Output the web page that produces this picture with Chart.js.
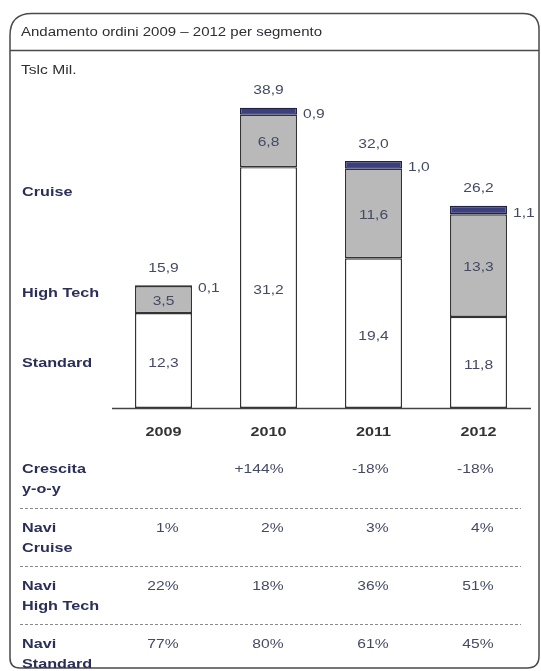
<!DOCTYPE html>
<html><head><meta charset="utf-8">
<script src="https://cdn.jsdelivr.net/npm/chart.js@4/dist/chart.umd.min.js"></script>
<style>html,body{margin:0;padding:0;background:#fff;}#wrap{width:541px;height:671px;position:relative;}</style>
</head><body><div id="wrap"><canvas id="c" width="541" height="671"></canvas></div>
<script>
const years = ['2009', '2010', '2011', '2012'];
const standard = [12.3, 31.2, 19.4, 11.8];
const highTech = [3.5, 6.8, 11.6, 13.3];
const cruise = [0.1, 0.9, 1.0, 1.1];
const totals = [15.9, 38.9, 32.0, 26.2];
const growth = ['', '+144%', '-18%', '-18%'];
const shareCruise = ['1%', '2%', '3%', '4%'];
const shareHighTech = ['22%', '18%', '36%', '51%'];
const shareStandard = ['77%', '80%', '61%', '45%'];
const segmentLabels = ['Cruise', 'High Tech', 'Standard'];
const tableRows = [
  { label: ['Crescita', 'y-o-y'], values: growth },
  { label: ['Navi', 'Cruise'], values: shareCruise },
  { label: ['Navi', 'High Tech'], values: shareHighTech },
  { label: ['Navi', 'Standard'], values: shareStandard }
];
const titleText = 'Andamento ordini 2009 – 2012 per segmento';
const unitText = 'Tslc Mil.';

const fmt = v => v.toFixed(1).replace('.', ',');
const FONT = '"Liberation Sans", Arial, sans-serif';
const VAL = '#454a62';
const LAB = '#2b2f57';
const SX = 1.2;

function txt(ctx, s, x, y, align, font, color) {
  ctx.save();
  ctx.font = font;
  ctx.fillStyle = color;
  ctx.textBaseline = 'middle';
  ctx.textAlign = align;
  ctx.translate(x, y);
  ctx.scale(SX, 1);
  ctx.fillText(s, 0, 0);
  ctx.restore();
}

const overlay = {
  id: 'overlay',
  afterDatasetsDraw(chart) {
    const ctx = chart.ctx;
    const xs = chart.scales.x, ys = chart.scales.y;
    const ca = chart.chartArea;
    ctx.save();
    // frame
    ctx.strokeStyle = '#4a4a4a';
    ctx.lineWidth = 1.5;
    const L = 10, T = 13.5, R = 539, B = 668;
    ctx.beginPath();
    ctx.moveTo(L + 22, T);
    ctx.lineTo(R - 16, T);
    ctx.quadraticCurveTo(R, T, R, T + 16);
    ctx.lineTo(R, B - 12);
    ctx.quadraticCurveTo(R, B, R - 12, B);
    ctx.lineTo(L + 10, B);
    ctx.quadraticCurveTo(L, B, L, B - 10);
    ctx.lineTo(L, T + 22);
    ctx.quadraticCurveTo(L, T, L + 22, T);
    ctx.stroke();
    // title separator
    ctx.beginPath();
    ctx.moveTo(L, 50.5); ctx.lineTo(R, 50.5);
    ctx.lineWidth = 1.3; ctx.stroke();
    // title and unit
    txt(ctx, titleText, 21, 33, 'left', '12.5px ' + FONT, '#2e2e35');
    txt(ctx, unitText, 21, 70, 'left', '13px ' + FONT, '#2e2e35');
    // baseline
    ctx.strokeStyle = '#444';
    ctx.lineWidth = 1.3;
    ctx.beginPath();
    ctx.moveTo(ca.left + 1, ys.getPixelForValue(0) + 0.5);
    ctx.lineTo(ca.right, ys.getPixelForValue(0) + 0.5);
    ctx.stroke();
    // segment labels on left
    const labFont = 'bold 13.5px ' + FONT;
    txt(ctx, segmentLabels[0], 22, 192, 'left', labFont, LAB);
    txt(ctx, segmentLabels[1], 22, 293, 'left', labFont, LAB);
    txt(ctx, segmentLabels[2], 22, 363, 'left', labFont, LAB);
    // bar value labels
    const vFont = '13px ' + FONT;
    const metaS = chart.getDatasetMeta(0).data;
    const metaH = chart.getDatasetMeta(1).data;
    const metaC = chart.getDatasetMeta(2).data;
    years.forEach((y, i) => {
      const cx = xs.getPixelForValue(i);
      const s = metaS[i], h = metaH[i], c = metaC[i];
      txt(ctx, fmt(standard[i]), cx, (s.y + s.base) / 2 + 3, 'center', vFont, VAL);
      txt(ctx, fmt(highTech[i]), cx, (h.y + h.base) / 2 + 2, 'center', vFont, VAL);
      txt(ctx, fmt(totals[i]), cx, ys.getPixelForValue(totals[i]) - 17, 'center', vFont, VAL);
      txt(ctx, fmt(cruise[i]), c.x + c.width / 2 + 6, (c.y + c.base) / 2 + 3, 'left', vFont, VAL);
      txt(ctx, y, cx, 432, 'center', 'bold 13.5px ' + FONT, '#333');
    });
    // table
    const rowY = [469, 528, 586, 644];
    const dashY = [508, 566, 624];
    tableRows.forEach((row, r) => {
      txt(ctx, row.label[0], 22, rowY[r], 'left', labFont, LAB);
      txt(ctx, row.label[1], 22, rowY[r] + 20, 'left', labFont, LAB);
      row.values.forEach((v, i) => {
        txt(ctx, v, xs.getPixelForValue(i) + 15, rowY[r], 'right', vFont, VAL);
      });
    });
    ctx.strokeStyle = '#8a8a8a';
    ctx.lineWidth = 1;
    ctx.setLineDash([3, 2]);
    dashY.forEach(y => {
      ctx.beginPath();
      ctx.moveTo(20, y + 0.5); ctx.lineTo(521, y + 0.5); ctx.stroke();
    });
    ctx.restore();
  }
};

const bw = 0.543;
new Chart(document.getElementById('c'), {
  type: 'bar',
  data: {
    labels: years,
    datasets: [
      { label: 'Standard', data: standard, backgroundColor: '#ffffff', borderColor: '#333', borderWidth: 1.4, borderSkipped: false, barPercentage: bw, categoryPercentage: 1 },
      { label: 'High Tech', data: highTech, backgroundColor: '#b9b9b9', borderColor: '#333', borderWidth: 1.4, borderSkipped: false, barPercentage: bw, categoryPercentage: 1 },
      { label: 'Cruise', data: cruise, backgroundColor: '#3b3f7c', borderColor: '#1f2147', borderWidth: 1.4, borderSkipped: false, barPercentage: bw, categoryPercentage: 1 }
    ]
  },
  options: {
    responsive: false,
    animation: false,
    layout: { padding: { left: 111, right: 10, top: 22, bottom: 263 } },
    plugins: { legend: { display: false }, tooltip: { enabled: false }, title: { display: false } },
    scales: {
      x: { stacked: true, display: false },
      y: { stacked: true, display: false, min: 0, max: 50 }
    }
  },
  plugins: [overlay]
});
</script>
</body></html>
